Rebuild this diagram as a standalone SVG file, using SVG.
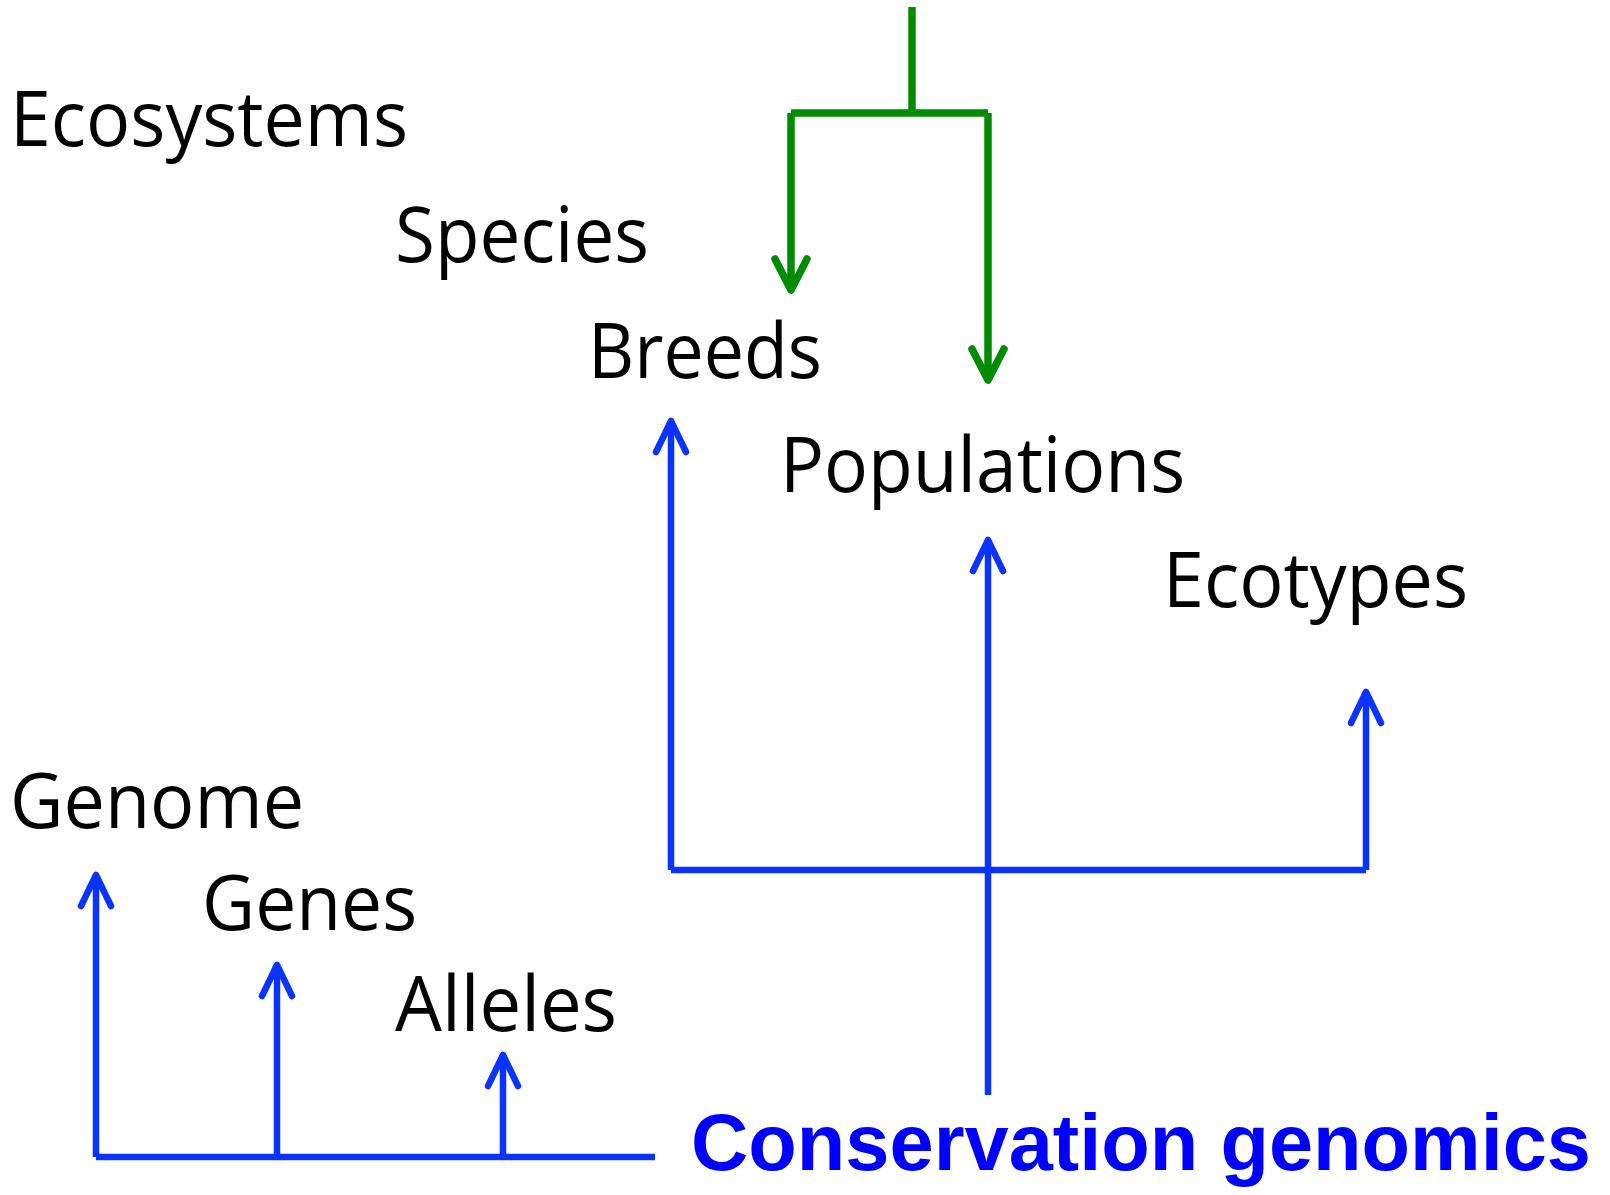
<svg xmlns="http://www.w3.org/2000/svg" width="1610" height="1195" viewBox="0 0 1610 1195">
<style>
.lbl{font-family:"Open Sans","Noto Sans","DejaVu Sans",sans-serif;font-size:76px;fill:#000}
.cg{font-family:"Comic Sans MS","Liberation Sans",sans-serif;font-weight:bold;font-size:80px;fill:#0000FF}
.g{stroke:#008C00;stroke-width:7.5;fill:none;stroke-linejoin:miter}
.b{stroke:#0A33FF;stroke-width:6.5;fill:none;stroke-linejoin:miter}
</style>
<defs>
<marker id="ag" markerUnits="userSpaceOnUse" orient="auto" markerWidth="60" markerHeight="60" refX="0" refY="0" viewBox="-40 -30 60 60" overflow="visible">
<path d="M-31,-16 L0,0 L-31,16" fill="none" stroke="#008C00" stroke-width="7.5" stroke-linecap="round" stroke-linejoin="round"/>
</marker>
<marker id="ab" markerUnits="userSpaceOnUse" orient="auto" markerWidth="60" markerHeight="60" refX="0" refY="0" viewBox="-40 -30 60 60" overflow="visible">
<path d="M-31,-15 L0,0 L-31,15" fill="none" stroke="#0A33FF" stroke-width="6.5" stroke-linecap="round" stroke-linejoin="round"/>
</marker>
</defs>
<rect width="1610" height="1195" fill="#fff"/>
<g id="connectors">
<path class="g" d="M912,7 V113"/>
<path class="g" d="M791,113 H988"/>
<path class="g" d="M791,113 V290" marker-end="url(#ag)"/>
<path class="g" d="M988,113 V380" marker-end="url(#ag)"/>
<path class="b" d="M671,870 V421" marker-end="url(#ab)"/>
<path class="b" d="M671,870 H1366"/>
<path class="b" d="M1366,870 V692" marker-end="url(#ab)"/>
<path class="b" d="M988,1095 V540" marker-end="url(#ab)"/>
<path class="b" d="M96,1157 V875" marker-end="url(#ab)"/>
<path class="b" d="M96,1157 H655"/>
<path class="b" d="M277,1157 V965" marker-end="url(#ab)"/>
<path class="b" d="M503,1157 V1055" marker-end="url(#ab)"/>
</g>
<g id="ecosystems"><text class="lbl" x="10" y="146" textLength="398" lengthAdjust="spacingAndGlyphs">Ecosystems</text></g>
<g id="species"><text class="lbl" x="395" y="262" textLength="254" lengthAdjust="spacingAndGlyphs">Species</text></g>
<g id="breeds"><text class="lbl" x="588" y="378" textLength="234" lengthAdjust="spacingAndGlyphs">Breeds</text></g>
<g id="populations"><text class="lbl" x="780" y="492" textLength="405" lengthAdjust="spacingAndGlyphs">Populations</text></g>
<g id="ecotypes"><text class="lbl" x="1163" y="607" textLength="305" lengthAdjust="spacingAndGlyphs">Ecotypes</text></g>
<g id="genome"><text class="lbl" x="10" y="828" textLength="294" lengthAdjust="spacingAndGlyphs">Genome</text></g>
<g id="genes"><text class="lbl" x="202" y="930" textLength="215" lengthAdjust="spacingAndGlyphs">Genes</text></g>
<g id="alleles"><text class="lbl" x="395" y="1031" textLength="222" lengthAdjust="spacingAndGlyphs">Alleles</text></g>
<g id="conservation-genomics"><text class="cg" x="691" y="1170" textLength="900" lengthAdjust="spacingAndGlyphs">Conservation genomics</text></g>
</svg>
